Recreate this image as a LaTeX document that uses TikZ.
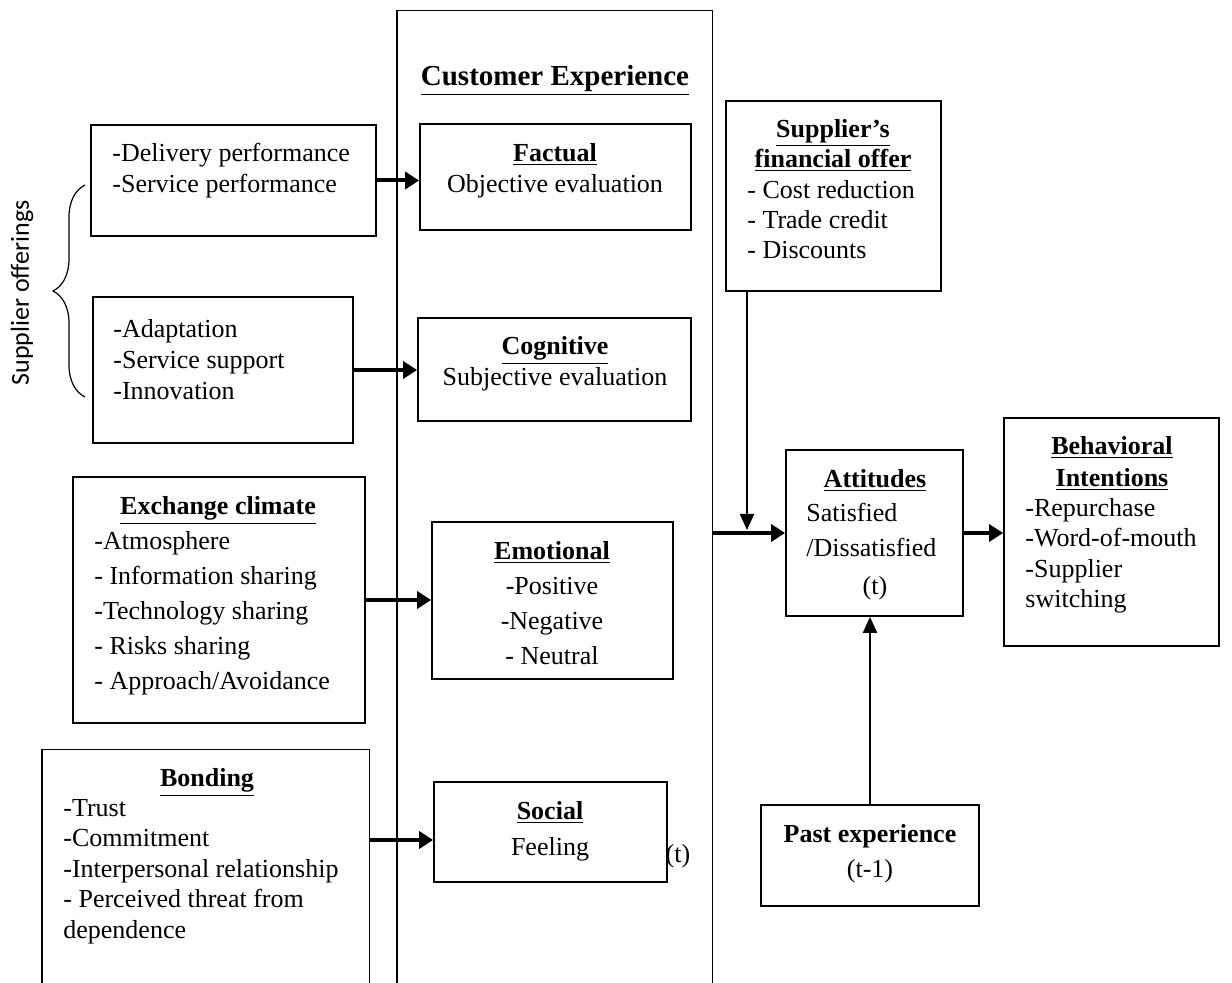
\documentclass[tikz,border=0pt]{standalone}
\usepackage{fontspec}
\setmainfont{Liberation Serif}
\newfontfamily\calibrifont{Carlito}
\usetikzlibrary{positioning,fit,arrows.meta,decorations.pathreplacing}

\tikzset{
    box/.style={draw, line width=0.9pt, inner sep=0pt},
    frame/.style={inner sep=0pt},
    lst/.style={anchor=north west, align=left, inner sep=0pt, font=\fontsize{13}{15.5}\selectfont},
    blk/.style={anchor=north, align=center, inner sep=0pt, font=\fontsize{13}{15.5}\selectfont},
    one/.style={anchor=mid, inner sep=0pt, font=\fontsize{13}{15.5}\selectfont},
    thk/.style={line width=2pt, -{Triangle[length=7pt,width=8.5pt]}},
    thn/.style={line width=1pt, -{Triangle[length=8pt,width=7pt]}}
}

\begin{document}
\begin{tikzpicture}[x=0.5pt, y=-0.5pt]
    \useasboundingbox (0,0) rectangle (1232,983);

    % Boxes
    \node[frame, fit={(397,11) (712,983)}] (cx) {};
    \draw[line width=0.9pt] (cx.south west) |- (cx.north east) -- (cx.south east);
    \node[frame, fit={(42,750) (369,983)}] (bond) {};
    \draw[line width=0.9pt] (bond.south west) |- (bond.north east) -- (bond.south east);

    \node[box, fit={(91,125) (376,236)}] (deliv) {};
    \node[box, fit={(93,297) (353,443)}] (adapt) {};
    \node[box, fit={(73,477) (365,723)}] (exch) {};
    \node[box, fit={(420,124) (691,230)}] (fact) {};
    \node[box, fit={(418,318) (691,421)}] (cogn) {};
    \node[box, fit={(432,522) (673,679)}] (emot) {};
    \node[box, fit={(434,782) (667,882)}] (soc) {};
    \node[box, fit={(726,101) (941,291)}] (fin) {};
    \node[box, fit={(786,450) (963,616)}] (att) {};
    \node[box, fit={(1004,418) (1219,646)}] (beh) {};
    \node[box, fit={(761,805) (979,906)}] (past) {};

    % Texts
    \node[rotate=90, inner sep=0pt, font=\calibrifont\fontsize{13}{15}\selectfont] (offer) at (22,293) {Supplier offerings};
    \draw[line width=0.6pt, decorate, decoration={brace, amplitude=16pt}] (85,397) -- (85,185);

    \node[lst] (delivtxt) at (112,143) {-Delivery performance\\-Service performance};
    \node[lst] (adapttxt) at (113,319) {-Adaptation\\-Service support\\-Innovation};
    \node[one, font=\fontsize{13}{15.5}\selectfont\bfseries] (exchttl) at (218,510) {\underline{Exchange climate}};
    \node[lst, font=\fontsize{13}{17.5}\selectfont] (exchtxt) at (94,531) {-Atmosphere\\- Information sharing\\-Technology sharing\\- Risks sharing\\- Approach/Avoidance};
    \node[one, font=\fontsize{13}{15.5}\selectfont\bfseries] (bondttl) at (207,782) {\underline{Bonding}};
    \node[lst, font=\fontsize{13}{15.25}\selectfont] (bondtxt) at (63,799) {-Trust\\-Commitment\\-Interpersonal relationship\\- Perceived threat from\\dependence};

    \node[one, font=\fontsize{14.5}{17}\selectfont\bfseries] (cxttl) at (555,81) {\underline{Customer Experience}};
    \node[blk] (facttxt) at (555,143) {\textbf{\underline{Factual}}\\Objective evaluation};
    \node[blk] (cogntxt) at (555,336) {\textbf{\underline{Cognitive}}\\Subjective evaluation};
    \node[blk, font=\fontsize{13}{17.5}\selectfont] (emottxt) at (552,541) {\textbf{\underline{Emotional}}\\-Positive\\-Negative\\- Neutral};
    \node[blk, font=\fontsize{13}{18}\selectfont] (soctxt) at (550,801) {\textbf{\underline{Social}}\\Feeling};
    \node[one] (soct) at (678,858) {(t)};

    \node[blk, font=\fontsize{13}{15}\selectfont\bfseries] (finttl) at (833,119) {\underline{Supplier's}\\\underline{financial offer}};
    \node[lst, font=\fontsize{13}{15}\selectfont] (fintxt) at (747,180) {- Cost reduction\\- Trade credit\\- Discounts};
    \node[one, font=\fontsize{13}{15.5}\selectfont\bfseries] (attttl) at (875,483) {\underline{Attitudes}};
    \node[lst, font=\fontsize{13}{17.5}\selectfont] (atttxt) at (806,503) {Satisfied\\/Dissatisfied};
    \node[one] (attt) at (875,590) {(t)};
    \node[blk, font=\fontsize{13}{16}\selectfont\bfseries] (behttl) at (1112,436) {\underline{Behavioral}\\\underline{Intentions}};
    \node[lst, font=\fontsize{13}{15.25}\selectfont] (behtxt) at (1025,498) {-Repurchase\\-Word-of-mouth\\-Supplier\\switching};
    \node[blk, font=\fontsize{13}{17.5}\selectfont] (pasttxt) at (870,824) {\textbf{Past experience}\\(t-1)};

    % Arrows
    \draw[thk] (deliv.east) -- (deliv.east -| fact.west);
    \draw[thk] (adapt.east) -- (adapt.east -| cogn.west);
    \draw[thk] (exch.east) -- (exch.east -| emot.west);
    \draw[thk] ([yshift=-4pt]soc.west -| bond.east) -- ([yshift=-4pt]soc.west);
    \draw[thk] (att.west -| cx.east) -- (att.west);
    \draw[thk] (att.east) -- (att.east -| beh.west);
    \coordinate (join) at (747,530);
    \draw[thn] (fin.south -| join) -- (join);
    \draw[thn] (past.north) -- (past.north |- att.south);
\end{tikzpicture}
\end{document}
